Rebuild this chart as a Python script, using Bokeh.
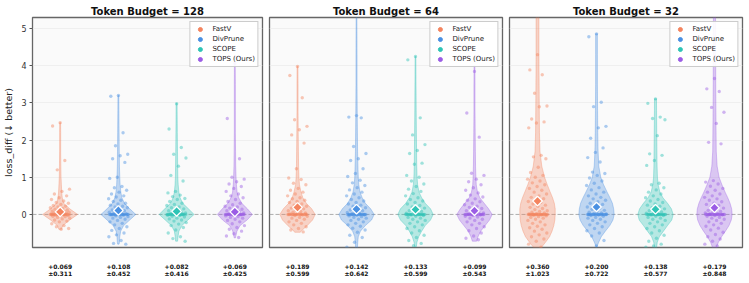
import numpy as np
from bokeh.plotting import figure
from bokeh.layouts import row
from bokeh.models import (Range1d, LinearAxis, FixedTicker, Span, Legend, LegendItem, Grid)
from bokeh.embed import file_html
from bokeh.resources import INLINE

# ---------------- data ----------------
methods = ["FastV", "DivPrune", "SCOPE", "TOPS (Ours)"]
colors = ["#F4845F", "#4A90E2", "#2EC4B6", "#9B5DE5"]
budgets = [128, 64, 32]

mean_128 = [0.069, 0.108, 0.082, 0.069]
std_128 = [0.311, 0.452, 0.416, 0.425]
mean_64 = [0.189, 0.142, 0.133, 0.099]
std_64 = [0.599, 0.642, 0.599, 0.543]
mean_32 = [0.360, 0.200, 0.138, 0.179]
std_32 = [1.023, 0.722, 0.577, 0.848]

# density profile levels (loss_diff) and relative violin widths
dens_y = [-0.9, -0.75, -0.6, -0.45, -0.3, -0.15, 0.0, 0.15, 0.3, 0.45, 0.6, 0.8, 1.0, 1.3, 1.7, 2.2, 2.8, 3.5, 4.3, 5.3]
dens_128 = [
    [0, 0, 0, 0.04, 0.15, 0.55, 1.0, 0.55, 0.2, 0.12, 0.09, 0.07, 0.05, 0.04, 0.03, 0.03, 0.02, 0.02, 0.02, 0.02],
    [0, 0.06, 0.08, 0.13, 0.3, 0.65, 1.0, 0.65, 0.35, 0.2, 0.14, 0.1, 0.08, 0.06, 0.05, 0.04, 0.03, 0.02, 0.02, 0.02],
    [0, 0.05, 0.08, 0.13, 0.3, 0.65, 1.0, 0.68, 0.35, 0.2, 0.13, 0.09, 0.07, 0.06, 0.05, 0.04, 0.03, 0.03, 0.02, 0.02],
    [0, 0, 0.05, 0.12, 0.3, 0.7, 1.0, 0.72, 0.4, 0.22, 0.13, 0.09, 0.07, 0.05, 0.04, 0.03, 0.03, 0.03, 0.02, 0.02],
]
dens_64 = [
    [0, 0, 0, 0.2, 0.55, 0.85, 1.0, 0.8, 0.5, 0.3, 0.2, 0.11, 0.08, 0.06, 0.05, 0.04, 0.03, 0.03, 0.02, 0.02],
    [0.05, 0.07, 0.1, 0.22, 0.5, 0.85, 1.0, 0.8, 0.5, 0.32, 0.2, 0.13, 0.1, 0.08, 0.06, 0.05, 0.04, 0.03, 0.03, 0.02],
    [0.04, 0.08, 0.18, 0.35, 0.55, 0.85, 1.0, 0.85, 0.55, 0.35, 0.2, 0.12, 0.09, 0.07, 0.06, 0.05, 0.04, 0.03, 0.02, 0.02],
    [0, 0.1, 0.2, 0.35, 0.6, 0.85, 1.0, 0.8, 0.55, 0.3, 0.17, 0.1, 0.08, 0.06, 0.05, 0.04, 0.03, 0.03, 0.02, 0.02],
]
dens_32 = [
    [0.2, 0.45, 0.68, 0.82, 0.92, 0.98, 1.0, 1.0, 0.95, 0.85, 0.72, 0.55, 0.4, 0.24, 0.14, 0.11, 0.1, 0.09, 0.08, 0.08],
    [0, 0.12, 0.27, 0.5, 0.75, 0.93, 1.0, 0.97, 0.9, 0.76, 0.6, 0.4, 0.24, 0.13, 0.09, 0.07, 0.06, 0.05, 0.05, 0.05],
    [0.06, 0.1, 0.22, 0.45, 0.68, 0.92, 1.0, 0.9, 0.68, 0.42, 0.25, 0.15, 0.11, 0.09, 0.08, 0.07, 0.06, 0.05, 0.05, 0.05],
    [0.1, 0.22, 0.4, 0.62, 0.82, 0.95, 1.0, 0.97, 0.88, 0.75, 0.6, 0.42, 0.26, 0.15, 0.1, 0.09, 0.08, 0.07, 0.07, 0.06],
]
lo_128 = [-0.4, -0.8, -0.72, -0.63]
hi_128 = [2.47, 3.2, 2.99, 4.1]
lo_64 = [-0.48, -0.92, -0.87, -0.72]
hi_64 = [3.98, 6.0, 4.25, 4.0]
lo_32 = [-0.92, -0.87, -0.92, -0.92]
hi_32 = [6.0, 4.86, 3.11, 6.0]

# number of samples with loss_diff exactly 0 (dense band at zero)
zeros_128 = [18, 20, 20, 20]
zeros_64 = [18, 20, 20, 20]
zeros_32 = [22, 22, 22, 22]

# other per-sample loss_diff values (read from the scattered points)
fastv_128 = [2.47, 2.38, 1.45, 1.2, 0.68, 0.62, 0.55, 0.5, 0.45, 0.4, 0.36, 0.32, 0.3, 0.27, 0.24, 0.22, 0.2, 0.18, 0.16, 0.14,
             0.12, 0.1, 0.09, 0.08, 0.07, 0.06, 0.05, 0.04, 0.03, 0.02, 0.01,
             -0.01, -0.02, -0.03, -0.04, -0.05, -0.06, -0.08, -0.1, -0.12, -0.15, -0.18, -0.2, -0.25, -0.3, -0.33, -0.38, -0.4]
divprune_128 = [3.2, 3.18, 2.2, 1.85, 1.62, 1.58, 1.5, 1.4, 1.0, 0.97, 0.75, 0.72, 0.65, 0.6, 0.55, 0.5, 0.47, 0.42, 0.38, 0.35,
                0.3, 0.28, 0.25, 0.22, 0.2, 0.18, 0.15, 0.12, 0.1, 0.08, 0.06, 0.05, 0.03, 0.02, 0.01,
                -0.01, -0.02, -0.04, -0.06, -0.08, -0.1, -0.13, -0.16, -0.2, -0.24, -0.28, -0.33,
                -0.38, -0.43, -0.5, -0.55, -0.6, -0.7, -0.78, -0.8]
scope_128 = [2.98, 2.3, 1.8, 1.62, 1.52, 1.3, 1.05, 0.9, 0.62, 0.58, 0.52, 0.48, 0.43, 0.4, 0.35, 0.3, 0.27, 0.24, 0.2, 0.18,
             0.15, 0.12, 0.1, 0.08, 0.06, 0.04, 0.03, 0.02, 0.01, -0.01, -0.02, -0.03,
             -0.05, -0.07, -0.1, -0.12, -0.15, -0.18, -0.22, -0.26, -0.3, -0.35, -0.42, -0.5, -0.6, -0.65, -0.72]
tops_128 = [4.06, 2.58, 1.5, 1.0, 0.95, 0.88, 0.82, 0.75, 0.7, 0.62, 0.55, 0.5, 0.45, 0.4, 0.35, 0.3, 0.26, 0.22, 0.2, 0.17,
            0.14, 0.12, 0.1, 0.08, 0.06, 0.04, 0.02, 0.01, -0.01, -0.02, -0.04, -0.06,
            -0.08, -0.1, -0.13, -0.16, -0.2, -0.25, -0.3, -0.35, -0.4, -0.45, -0.52, -0.58, -0.62]
fastv_64 = [3.98, 3.74, 3.14, 2.55, 2.37, 2.28, 2.14, 1.92, 1.23, 0.98, 0.94, 0.84, 0.8, 0.7, 0.65, 0.6, 0.55, 0.5, 0.45,
            0.42, 0.38, 0.35, 0.32, 0.28, 0.25, 0.22, 0.2, 0.17, 0.15, 0.12, 0.1, 0.08, 0.06, 0.04, 0.02, 0.01,
            -0.01, -0.03, -0.05, -0.08, -0.1, -0.13, -0.16, -0.2, -0.24, -0.28, -0.33, -0.38, -0.42, -0.47]
divprune_64 = [2.66, 2.62, 2.6, 1.83, 1.64, 1.5, 1.45, 1.23, 1.1, 1.02, 0.92, 0.85, 0.78, 0.72, 0.66, 0.6, 0.55, 0.5, 0.45,
               0.4, 0.36, 0.32, 0.28, 0.25, 0.22, 0.18, 0.15, 0.12, 0.1, 0.07, 0.05, 0.03, 0.02,
               -0.01, -0.02, -0.04, -0.06, -0.08, -0.1, -0.13, -0.16, -0.2, -0.24, -0.28, -0.32, -0.37,
               -0.42, -0.48, -0.56, -0.62, -0.75, -0.88]
scope_64 = [4.25, 4.16, 2.6, 2.14, 1.88, 1.72, 1.64, 1.38, 1.35, 1.05, 1.0, 0.9, 0.82, 0.75, 0.68, 0.62, 0.56, 0.5, 0.45,
            0.4, 0.36, 0.32, 0.28, 0.24, 0.2, 0.17, 0.14, 0.1, 0.08, 0.05, 0.03, 0.01,
            -0.01, -0.03, -0.05, -0.08, -0.1, -0.13, -0.16, -0.2, -0.24, -0.28, -0.33, -0.38, -0.44, -0.5, -0.56, -0.62,
            -0.7, -0.78, -0.84]
tops_64 = [3.85, 2.73, 2.08, 1.11, 1.05, 0.95, 0.88, 0.8, 0.72, 0.65, 0.58, 0.52, 0.47, 0.42, 0.38, 0.34, 0.3, 0.26, 0.22,
           0.19, 0.16, 0.13, 0.1, 0.08, 0.06, 0.04, 0.02, 0.01, -0.01, -0.03, -0.05,
           -0.07, -0.1, -0.13, -0.16, -0.2, -0.24, -0.28, -0.33, -0.38, -0.44, -0.5, -0.58, -0.64, -0.68]
fastv_32 = [4.3, 3.89, 3.76, 3.26, 2.92, 2.9, 2.57, 2.49, 2.46, 2.33, 1.59, 1.55, 1.5, 1.27, 1.13, 1.05, 1.0, 0.95, 0.9,
            0.85, 0.8, 0.75, 0.7, 0.65, 0.6, 0.55, 0.5, 0.46, 0.42, 0.38, 0.35, 0.32, 0.28, 0.25, 0.22, 0.19, 0.16, 0.13,
            0.1, 0.08, 0.06, 0.04, 0.02, 0.01, -0.01, -0.02, -0.04, -0.06, -0.08,
            -0.1, -0.13, -0.16, -0.2, -0.24, -0.28, -0.32, -0.36, -0.4, -0.45, -0.5, -0.55, -0.6, -0.66, -0.72, -0.8, -0.88]
divprune_32 = [4.86, 4.78, 3.02, 2.9, 2.37, 2.33, 2.05, 1.79, 1.67, 1.53, 1.41, 1.14, 1.1, 1.05, 0.98, 0.9, 0.84, 0.78,
               0.72, 0.66, 0.6, 0.55, 0.5, 0.46, 0.42, 0.38, 0.34, 0.3, 0.27, 0.24, 0.2, 0.17, 0.14, 0.11, 0.08, 0.06,
               0.04, 0.02, 0.01, -0.01, -0.03, -0.05, -0.08, -0.1, -0.13, -0.16, -0.2,
               -0.24, -0.28, -0.33, -0.38, -0.44, -0.5, -0.58, -0.7, -0.85]
scope_32 = [3.11, 2.99, 2.62, 2.58, 2.55, 2.12, 1.63, 1.59, 1.45, 1.32, 0.84, 0.8, 0.72, 0.66, 0.6, 0.55, 0.5, 0.45, 0.4,
            0.36, 0.32, 0.28, 0.25, 0.22, 0.18, 0.15, 0.12, 0.1, 0.07, 0.05, 0.03, 0.01,
            -0.01, -0.03, -0.05, -0.08, -0.1, -0.13, -0.16, -0.2, -0.24, -0.28, -0.33, -0.38, -0.44, -0.5, -0.56, -0.64,
            -0.72, -0.8, -0.85, -0.88]
tops_32 = [3.66, 3.38, 3.31, 2.88, 2.75, 2.45, 1.94, 1.9, 0.91, 0.87, 0.82, 0.76, 0.7, 0.65, 0.6, 0.55, 0.5, 0.46, 0.42,
           0.38, 0.34, 0.3, 0.27, 0.24, 0.2, 0.17, 0.14, 0.11, 0.08, 0.06, 0.04, 0.02, 0.01,
           -0.01, -0.03, -0.05, -0.08, -0.1, -0.13, -0.16, -0.2, -0.24, -0.28, -0.32, -0.37, -0.42, -0.48, -0.54,
           -0.6, -0.66, -0.72, -0.8, -0.85]

yticks = [0, 1, 2, 3, 4, 5]

panels = [
    (128, [fastv_128, divprune_128, scope_128, tops_128], zeros_128, dens_128, lo_128, hi_128, mean_128, std_128),
    (64, [fastv_64, divprune_64, scope_64, tops_64], zeros_64, dens_64, lo_64, hi_64, mean_64, std_64),
    (32, [fastv_32, divprune_32, scope_32, tops_32], zeros_32, dens_32, lo_32, hi_32, mean_32, std_32),
]

FONT = "DejaVu Sans"
HALF_W = 0.3      # half of violin max width
JIT = 0.34        # jitter spread


def make_panel(k, budget, samples, zeros, dens, lo, hi, means, stds, width, left, right):
    p = figure(width=width, height=283, x_range=Range1d(-0.475, 3.475), y_range=Range1d(-0.89, 5.3),
               output_backend="svg", toolbar_location=None, x_axis_location=None, y_axis_location=None,
               min_border_left=left, min_border_right=right, min_border_top=17, min_border_bottom=36,
               title="Token Budget = %d" % budget)
    p.xgrid.visible = False
    p.ygrid.visible = False
    p.title.align = "center"
    p.title.text_font = FONT
    p.title.text_font_size = "10px"
    p.title.text_font_style = "bold"
    p.title.text_color = "#111111"
    p.title.standoff = 2
    p.background_fill_color = "#fafafa"
    p.border_fill_color = "white"
    p.outline_line_color = "#666666"
    p.outline_line_width = 1.3

    grid = Grid(dimension=1, ticker=FixedTicker(ticks=yticks[1:]), grid_line_color="#ececec", grid_line_width=0.8)
    p.add_layout(grid)
    p.add_layout(Span(location=0, dimension="width", line_color="#999999", line_width=0.8,
                      line_dash="4 2", level="underlay"))

    if k == 0:
        yax = LinearAxis(ticker=FixedTicker(ticks=yticks), axis_label="loss_diff (↓ better)")
        yax.axis_line_color = None
        yax.major_tick_out = 3
        yax.major_tick_in = 0
        yax.major_tick_line_color = "#555555"
        yax.minor_tick_line_color = None
        yax.major_label_standoff = 3
        yax.major_label_text_font = FONT
        yax.major_label_text_font_size = "8px"
        yax.major_label_text_color = "#333333"
        yax.axis_label_text_font = FONT
        yax.axis_label_text_font_size = "9.5px"
        yax.axis_label_text_font_style = "normal"
        yax.axis_label_text_color = "#222222"
        yax.axis_label_standoff = 4
        p.add_layout(yax, "left")

    xax = LinearAxis(ticker=FixedTicker(ticks=[0, 1, 2, 3]))
    xax.major_label_overrides = {i: "%+.3f\n±%.3f" % (means[i], stds[i]) for i in range(4)}
    xax.axis_line_color = None
    xax.major_tick_line_color = None
    xax.minor_tick_line_color = None
    xax.major_label_standoff = 9
    xax.major_label_text_font = FONT
    xax.major_label_text_font_size = "6px"
    xax.major_label_text_font_style = "bold"
    xax.major_label_text_color = "#111111"
    xax.major_label_text_line_height = 1.1
    p.add_layout(xax, "below")

    items = []
    for i in range(4):
        c = colors[i]
        ys = [lo[i]] + [y for y in dens_y if lo[i] < y < hi[i]] + [hi[i]]
        w = np.interp(ys, dens_y, dens[i]) * HALF_W
        ys = np.array(ys)
        px = np.concatenate([i + w, (i - w)[::-1]])
        py = np.concatenate([ys, ys[::-1]])
        p.patch(px, py, fill_color=c, fill_alpha=0.33, line_color=c, line_alpha=0.35, line_width=1)

        vals = np.array(list(samples[i]) + [0.0] * zeros[i], dtype=float)
        n = len(vals)
        jit = ((np.arange(n) * 0.6180339887 + 0.5) % 1.0 - 0.5) * JIT
        p.scatter(i + jit, vals, size=3.4, fill_color=c, fill_alpha=0.45, line_color=None)

        p.scatter([i], [means[i]], marker="square", size=6.8, angle=np.pi / 4, fill_color=c,
                  line_color="white", line_width=1.3)

        dummy = p.scatter([-10], [-10], size=8, fill_color=c, line_color=c)
        items.append(LegendItem(label=methods[i], renderers=[dummy]))

    leg = Legend(items=items, location="top_right")
    leg.label_text_font = FONT
    leg.label_text_font_size = "7px"
    leg.label_text_color = "#222222"
    leg.glyph_width = 15
    leg.glyph_height = 10
    leg.label_height = 10
    leg.label_standoff = 5
    leg.spacing = 0
    leg.padding = 2
    leg.margin = 4
    leg.border_line_color = "#999999"
    leg.border_line_width = 1
    leg.background_fill_color = "white"
    leg.background_fill_alpha = 0.9
    p.add_layout(leg)
    return p


widths = [265, 240, 244]
lefts = [29, 4, 4]
rights = [3, 3, 7]
figs = []
for k, (b, s, z, d, lo, hi, m, sd) in enumerate(panels):
    figs.append(make_panel(k, b, s, z, d, lo, hi, m, sd, widths[k], lefts[k], rights[k]))

layout = row(*figs)
open("out.html", "w").write(file_html(layout, INLINE))
